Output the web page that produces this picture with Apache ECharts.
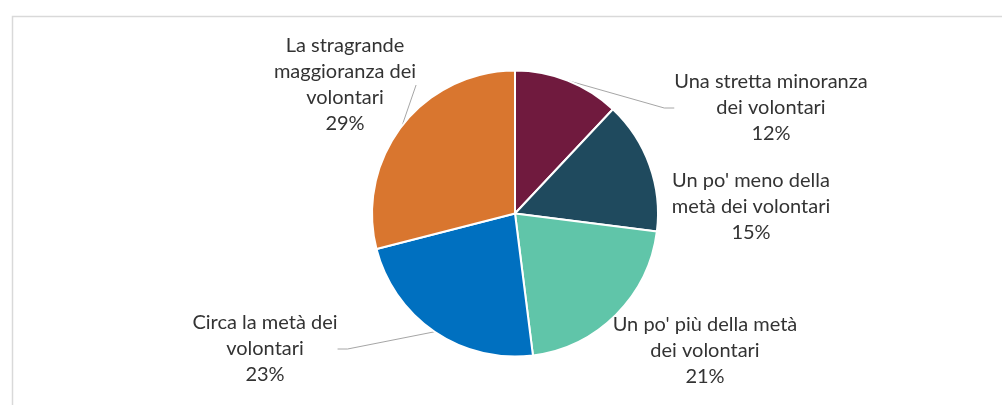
<!DOCTYPE html>
<html>
<head>
<meta charset="utf-8">
<script src="https://cdn.jsdelivr.net/npm/echarts@6/dist/echarts.min.js"></script>
<style>
  html, body { margin: 0; padding: 0; background: #fff; }
  #chart { width: 1002px; height: 405px; }
</style>
</head>
<body>
<div id="chart"></div>
<script>
// Share of volunteers involved (categories clockwise from 12 o'clock)
const categories = [
  'Una stretta minoranza\ndei volontari',
  "Un po' meno della\nmetà dei volontari",
  "Un po' più della metà\ndei volontari",
  'Circa la metà dei\nvolontari',
  'La stragrande\nmaggioranza dei\nvolontari'
];
const shares = [12, 15, 21, 23, 29];
const sliceColors = ['#701A3E', '#1F4A5E', '#60C5A9', '#0070C0', '#D9762F'];
const showLeader = [true, false, false, true, true];

// Centre point of each label block, in pixels
const labelCentres = [
  [771, 108],
  [751, 207],
  [705, 351],
  [265, 349],
  [345, 85]
];

const chart = echarts.init(document.getElementById('chart'), null, { renderer: 'canvas' });

const data = categories.map((name, i) => ({
  name: name,
  value: shares[i],
  itemStyle: { color: sliceColors[i] },
  labelLine: { show: showLeader[i] }
}));

chart.setOption({
  animation: false,
  backgroundColor: '#ffffff',
  graphic: [{
    type: 'rect',
    left: 10,
    top: 14,
    shape: { width: 1100, height: 500 },
    style: { fill: 'none', stroke: '#D9D9D9', lineWidth: 1.5 },
    silent: true
  }],
  series: [{
    type: 'pie',
    center: [515, 213.5],
    radius: ['0%', 143],
    startAngle: 90,
    clockwise: true,
    avoidLabelOverlap: false,
    itemStyle: { borderColor: '#ffffff', borderWidth: 2 },
    label: {
      show: true,
      position: 'outside',
      formatter: p => p.name + '\n' + p.value + '%',
      fontFamily: 'Lato',
      fontSize: 20,
      lineHeight: 26,
      color: '#333333',
      align: 'center'
    },
    labelLine: {
      show: true,
      length: 10,
      length2: 10,
      lineStyle: { color: '#A6A6A6', width: 1 }
    },
    labelLayout: function (params) {
      const c = labelCentres[params.dataIndex];
      return {
        x: c[0],
        y: c[1],
        align: 'center',
        verticalAlign: 'middle'
      };
    },
    emphasis: { disabled: true },
    data: data
  }]
});
</script>
</body>
</html>
